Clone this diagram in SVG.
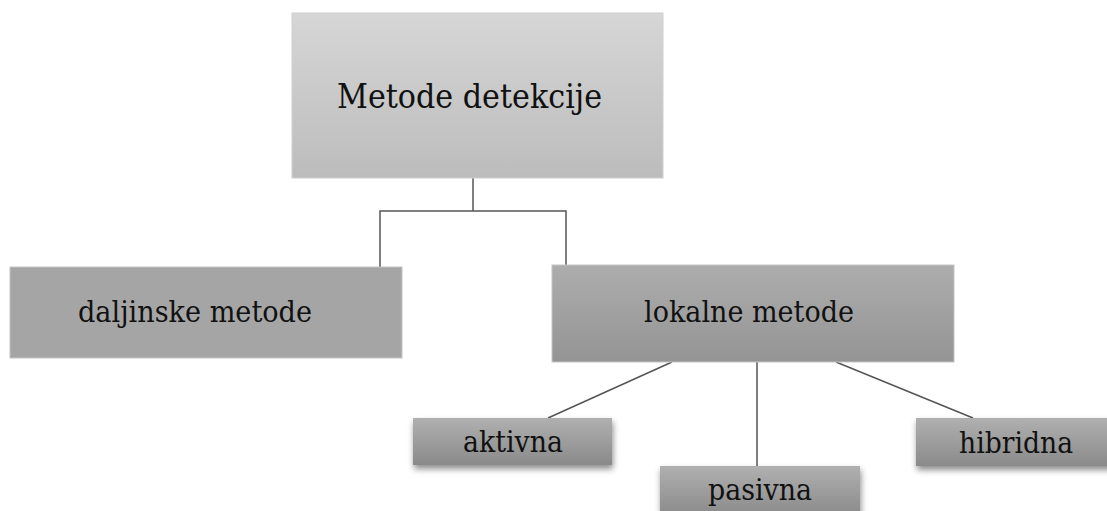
<svg xmlns="http://www.w3.org/2000/svg" width="1107" height="511" viewBox="0 0 1107 511">
  <style>
    .lbl { font-family: 'DejaVu Serif', serif; fill: #111; }
    .conn { stroke: #555; stroke-width: 1.5; fill: none; }
  </style>
  <defs>
    <linearGradient id="gTop" x1="0" y1="0" x2="0" y2="1">
      <stop offset="0" stop-color="#d6d6d6"/>
      <stop offset="1" stop-color="#bcbcbc"/>
    </linearGradient>
    <linearGradient id="gMid" x1="0" y1="0" x2="0" y2="1">
      <stop offset="0" stop-color="#adadad"/>
      <stop offset="1" stop-color="#949494"/>
    </linearGradient>
    <linearGradient id="gSmall" x1="0" y1="0" x2="0" y2="1">
      <stop offset="0" stop-color="#b0b0b0"/>
      <stop offset="1" stop-color="#8a8a8a"/>
    </linearGradient>
    <filter id="shadow" x="-10%" y="-20%" width="125%" height="160%">
      <feDropShadow dx="1" dy="4" stdDeviation="3" flood-color="#000" flood-opacity="0.45"/>
    </filter>
  </defs>

  <g id="connectors">
    <polyline class="conn" points="473,178 473,211"/>
    <polyline class="conn" points="380,267 380,211 566,211 566,265"/>
    <line class="conn" x1="672" y1="362" x2="548" y2="418"/>
    <line class="conn" x1="757" y1="362" x2="757" y2="466"/>
    <line class="conn" x1="836" y1="362" x2="973" y2="418"/>
  </g>

  <g id="node-metode-detekcije">
    <rect x="292" y="13" width="371" height="165" fill="url(#gTop)" stroke="#cfcfcf" stroke-width="1"/>
    <text class="lbl" x="337" y="108" font-size="33" textLength="265" lengthAdjust="spacingAndGlyphs">Metode detekcije</text>
  </g>

  <g id="node-daljinske">
    <rect x="10" y="267" width="392" height="91" fill="#a5a5a5" stroke="#c4c4c4" stroke-width="1"/>
    <text class="lbl" x="78" y="322" font-size="30" textLength="234" lengthAdjust="spacingAndGlyphs">daljinske metode</text>
  </g>

  <g id="node-lokalne">
    <rect x="552" y="265" width="402" height="97" fill="url(#gMid)" stroke="#c4c4c4" stroke-width="1"/>
    <text class="lbl" x="644" y="322" font-size="30" textLength="210" lengthAdjust="spacingAndGlyphs">lokalne metode</text>
  </g>

  <g id="node-aktivna">
    <rect x="413" y="418" width="199" height="47" fill="url(#gSmall)" filter="url(#shadow)"/>
    <text class="lbl" x="463" y="452" font-size="29" textLength="100" lengthAdjust="spacingAndGlyphs">aktivna</text>
  </g>

  <g id="node-pasivna">
    <rect x="660" y="466" width="200" height="50" fill="url(#gSmall)" filter="url(#shadow)"/>
    <text class="lbl" x="708" y="500" font-size="29" textLength="104" lengthAdjust="spacingAndGlyphs">pasivna</text>
  </g>

  <g id="node-hibridna">
    <rect x="916" y="418" width="200" height="48" fill="url(#gSmall)" filter="url(#shadow)"/>
    <text class="lbl" x="959" y="453" font-size="29" textLength="114" lengthAdjust="spacingAndGlyphs">hibridna</text>
  </g>
</svg>
